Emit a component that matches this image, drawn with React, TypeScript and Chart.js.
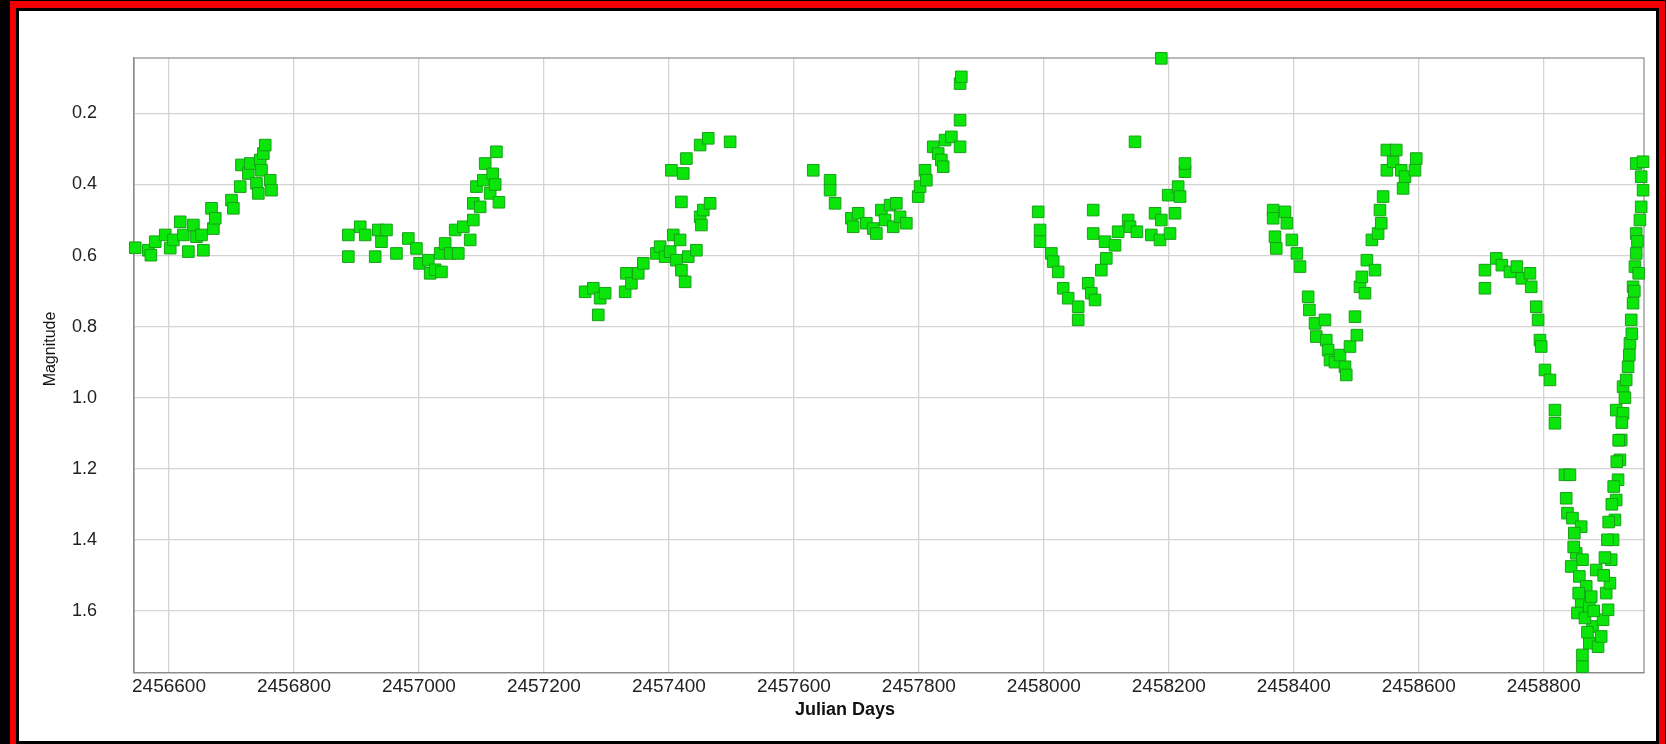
import React, { useEffect, useRef } from "react";
import { Chart, registerables } from "chart.js";

Chart.register(...registerables);

// ---- Data (Julian Days vs Magnitude) ----
const season1Days = [2456546, 2456567, 2456571, 2456578, 2456594, 2456602, 2456607, 2456618, 2456623, 2456631, 2456639, 2456644, 2456652, 2456655, 2456668, 2456671, 2456674, 2456700, 2456703, 2456714, 2456716, 2456727, 2456730, 2456740, 2456743, 2456746, 2456748, 2456751, 2456754, 2456762, 2456764];
const season1Mags = [0.578, 0.585, 0.599, 0.561, 0.542, 0.579, 0.556, 0.505, 0.542, 0.589, 0.514, 0.547, 0.542, 0.585, 0.467, 0.524, 0.495, 0.444, 0.467, 0.406, 0.345, 0.369, 0.341, 0.397, 0.425, 0.331, 0.36, 0.313, 0.289, 0.388, 0.416];

const season2Days = [2456887, 2456887, 2456906, 2456914, 2456930, 2456935, 2456940, 2456948, 2456964, 2456983, 2456996, 2457001, 2457015, 2457018, 2457026, 2457034, 2457036, 2457042, 2457050, 2457058, 2457063, 2457071, 2457082, 2457087, 2457087, 2457092, 2457098, 2457103, 2457106, 2457114, 2457118, 2457122, 2457124, 2457128];
const season2Mags = [0.542, 0.603, 0.519, 0.542, 0.603, 0.528, 0.561, 0.528, 0.594, 0.552, 0.58, 0.622, 0.613, 0.65, 0.64, 0.594, 0.646, 0.566, 0.594, 0.528, 0.594, 0.519, 0.556, 0.5, 0.453, 0.406, 0.463, 0.388, 0.341, 0.425, 0.37, 0.4, 0.308, 0.45];

const season3Days = [2457266, 2457279, 2457287, 2457290, 2457298, 2457330, 2457332, 2457340, 2457351, 2457359, 2457380, 2457386, 2457394, 2457402, 2457404, 2457407, 2457412, 2457418, 2457420, 2457420, 2457423, 2457426, 2457428, 2457431, 2457444, 2457450, 2457450, 2457452, 2457455, 2457463, 2457466, 2457498];
const season3Mags = [0.702, 0.692, 0.767, 0.72, 0.706, 0.702, 0.65, 0.678, 0.65, 0.622, 0.594, 0.575, 0.603, 0.589, 0.36, 0.542, 0.613, 0.556, 0.641, 0.449, 0.369, 0.674, 0.327, 0.603, 0.585, 0.289, 0.491, 0.514, 0.472, 0.27, 0.453, 0.28];

const season4Days = [2457631, 2457658, 2457658, 2457666, 2457692, 2457695, 2457703, 2457716, 2457727, 2457732, 2457740, 2457746, 2457754, 2457759, 2457764, 2457770, 2457780, 2457799, 2457802, 2457810, 2457812, 2457823, 2457831, 2457836, 2457839, 2457842, 2457852, 2457866, 2457866, 2457866, 2457868];
const season4Mags = [0.36, 0.388, 0.416, 0.453, 0.495, 0.519, 0.481, 0.509, 0.524, 0.538, 0.472, 0.5, 0.458, 0.519, 0.453, 0.491, 0.509, 0.434, 0.406, 0.36, 0.388, 0.294, 0.313, 0.331, 0.35, 0.275, 0.266, 0.294, 0.219, 0.116, 0.097];

const season5Days = [2457991, 2457994, 2457994, 2458012, 2458015, 2458023, 2458031, 2458039, 2458055, 2458055, 2458071, 2458076, 2458079, 2458079, 2458082, 2458092, 2458098, 2458100, 2458114, 2458119, 2458135, 2458138, 2458146, 2458149, 2458172, 2458178, 2458186, 2458188, 2458188, 2458199, 2458202, 2458210, 2458215, 2458218, 2458226, 2458226];
const season5Mags = [0.477, 0.528, 0.561, 0.594, 0.617, 0.646, 0.692, 0.72, 0.744, 0.781, 0.678, 0.706, 0.472, 0.538, 0.725, 0.641, 0.561, 0.608, 0.571, 0.533, 0.5, 0.519, 0.28, 0.533, 0.542, 0.481, 0.556, 0.045, 0.5, 0.43, 0.538, 0.481, 0.406, 0.434, 0.364, 0.341];

const season6Days = [2458367, 2458367, 2458370, 2458372, 2458386, 2458389, 2458397, 2458405, 2458410, 2458423, 2458425, 2458434, 2458436, 2458450, 2458452, 2458455, 2458458, 2458466, 2458474, 2458482, 2458484, 2458490, 2458498, 2458501, 2458506, 2458509, 2458514, 2458517, 2458525, 2458530, 2458535, 2458538, 2458540, 2458543, 2458549, 2458549, 2458559, 2458564, 2458572, 2458575, 2458578, 2458594, 2458596];
const season6Mags = [0.472, 0.495, 0.547, 0.58, 0.477, 0.509, 0.556, 0.594, 0.631, 0.716, 0.753, 0.791, 0.828, 0.781, 0.838, 0.866, 0.894, 0.9, 0.88, 0.913, 0.936, 0.856, 0.772, 0.824, 0.688, 0.66, 0.706, 0.613, 0.556, 0.641, 0.538, 0.472, 0.509, 0.434, 0.36, 0.303, 0.336, 0.303, 0.36, 0.411, 0.378, 0.36, 0.327];

const season7Days = [2458706, 2458706, 2458724, 2458733, 2458746, 2458757, 2458765, 2458778, 2458780, 2458788, 2458791, 2458794, 2458796, 2458802, 2458810, 2458818, 2458818, 2458834, 2458842, 2458836, 2458838, 2458846, 2458860, 2458849, 2458852, 2458862, 2458844, 2458857, 2458868, 2458860, 2458854, 2458873, 2458878, 2458884, 2458862, 2458862, 2458873, 2458887, 2458892, 2458895, 2458903, 2458900, 2458906, 2458908, 2458911, 2458914, 2458916, 2458919, 2458922, 2458924, 2458916, 2458927, 2458927, 2458935, 2458938, 2458940, 2458943, 2458943, 2458946, 2458948, 2458948, 2458954, 2458956, 2458959, 2458956, 2458948, 2458959, 2458848, 2458856, 2458866, 2458870, 2458876, 2458880, 2458896, 2458898, 2458902, 2458904, 2458909, 2458912, 2458917, 2458920, 2458925, 2458930, 2458932, 2458937, 2458941, 2458945, 2458950, 2458952];
const season7Mags = [0.692, 0.641, 0.608, 0.627, 0.646, 0.631, 0.664, 0.65, 0.688, 0.744, 0.781, 0.838, 0.856, 0.922, 0.95, 1.035, 1.072, 1.217, 1.217, 1.283, 1.325, 1.339, 1.363, 1.381, 1.438, 1.456, 1.475, 1.503, 1.531, 1.578, 1.606, 1.588, 1.644, 1.485, 1.724, 1.757, 1.691, 1.701, 1.672, 1.625, 1.597, 1.55, 1.522, 1.456, 1.4, 1.344, 1.288, 1.231, 1.175, 1.119, 1.035, 1.044, 0.969, 0.913, 0.847, 0.781, 0.734, 0.688, 0.631, 0.594, 0.538, 0.5, 0.463, 0.416, 0.378, 0.341, 0.336, 1.42, 1.55, 1.62, 1.66, 1.56, 1.6, 1.5, 1.45, 1.4, 1.35, 1.3, 1.25, 1.18, 1.12, 1.07, 1.0, 0.95, 0.88, 0.82, 0.7, 0.56, 0.65];

const xTicks = [2456600, 2456800, 2457000, 2457200, 2457400, 2457600, 2457800, 2458000, 2458200, 2458400, 2458600, 2458800];
const yTicks = [0.2, 0.4, 0.6, 0.8, 1.0, 1.2, 1.4, 1.6];

const X_MIN = 2456544;
const X_MAX = 2458960.5;
const Y_MIN = 0.044;
const Y_MAX = 1.774;

const allDays = [season1Days, season2Days, season3Days, season4Days, season5Days, season6Days, season7Days];
const allMags = [season1Mags, season2Mags, season3Mags, season4Mags, season5Mags, season6Mags, season7Mags];

const FONT = "'Liberation Sans', Arial, Helvetica, sans-serif";

export default function App() {
  const ref = useRef<HTMLCanvasElement>(null);

  useEffect(() => {
    document.body.style.margin = "0";
    const points: { x: number; y: number }[] = [];
    allDays.forEach((days, i) => {
      days.forEach((d, j) => points.push({ x: d, y: allMags[i][j] }));
    });

    const framePlugin = {
      id: "plotFrame",
      beforeDatasetsDraw(chart: any) {
        const { ctx, chartArea } = chart;
        ctx.save();
        ctx.strokeStyle = "#8c8c8c";
        ctx.lineWidth = 1.2;
        ctx.strokeRect(chartArea.left, chartArea.top, chartArea.right - chartArea.left, chartArea.bottom - chartArea.top);
        ctx.restore();
      },
    };

    const titlePlugin = {
      id: "axisTitles",
      afterDraw(chart: any) {
        const { ctx } = chart;
        ctx.save();
        ctx.fillStyle = "#111";
        ctx.textAlign = "center";
        ctx.textBaseline = "middle";
        ctx.font = `bold 18px ${FONT}`;
        ctx.fillText("Julian Days", 845, 710);
        ctx.translate(51, 349);
        ctx.rotate(-Math.PI / 2);
        ctx.font = `16px ${FONT}`;
        ctx.fillText("Magnitude", 0, 0);
        ctx.restore();
      },
    };

    const chart = new Chart(ref.current!, {
      type: "scatter",
      data: {
        datasets: [
          {
            data: points,
            pointStyle: "rect",
            pointRadius: 8.2,
            pointHoverRadius: 8.2,
            backgroundColor: "rgb(10,230,10)",
            borderColor: "rgb(24,160,24)",
            borderWidth: 1,
            clip: false,
          } as any,
        ],
      },
      options: {
        animation: false,
        responsive: false,
        maintainAspectRatio: false,
        events: [],
        layout: { padding: { left: 0, top: 58, right: 22, bottom: 0 } },
        plugins: { legend: { display: false }, tooltip: { enabled: false } },
        scales: {
          x: {
            type: "linear",
            min: X_MIN,
            max: X_MAX,
            afterFit: (s: any) => {
              s.height = 71.3;
            },
            afterBuildTicks: (s: any) => {
              s.ticks = xTicks.map((v) => ({ value: v }));
            },
            ticks: {
              callback: (v: any) => String(v),
              font: { family: FONT, size: 19 },
              color: "#222",
              padding: 3,
              maxRotation: 0,
              autoSkip: false,
            },
            grid: { color: "#d4d4d4", lineWidth: 1.3, drawTicks: false },
            border: { color: "#8c8c8c", width: 1.2 },
          },
          y: {
            type: "linear",
            reverse: true,
            min: Y_MIN,
            max: Y_MAX,
            afterFit: (s: any) => {
              s.width = 134;
            },
            afterBuildTicks: (s: any) => {
              s.ticks = yTicks.map((v) => ({ value: v }));
            },
            ticks: {
              callback: (v: any) => Number(v).toFixed(1),
              font: { family: FONT, size: 18 },
              color: "#222",
              padding: 37,
              autoSkip: false,
            },
            grid: { color: "#d4d4d4", lineWidth: 1.3, drawTicks: false },
            border: { color: "#8c8c8c", width: 1.2 },
          },
        },
      },
      plugins: [framePlugin, titlePlugin],
    });
    return () => chart.destroy();
  }, []);

  return (
    <div style={{ position: "relative", width: 1666, height: 744, overflow: "hidden", background: "#000" }}>
      <div style={{ position: "absolute", left: 10, top: 1, width: 1655, height: 743, background: "#f00000" }} />
      <div style={{ position: "absolute", left: 16, top: 8, width: 1643, height: 736, background: "#000" }} />
      <div style={{ position: "absolute", left: 19, top: 11, width: 1637, height: 730, background: "#fff" }} />
      <canvas ref={ref} width={1666} height={744} style={{ position: "absolute", left: 0, top: 0, width: 1666, height: 744 }} />
    </div>
  );
}
